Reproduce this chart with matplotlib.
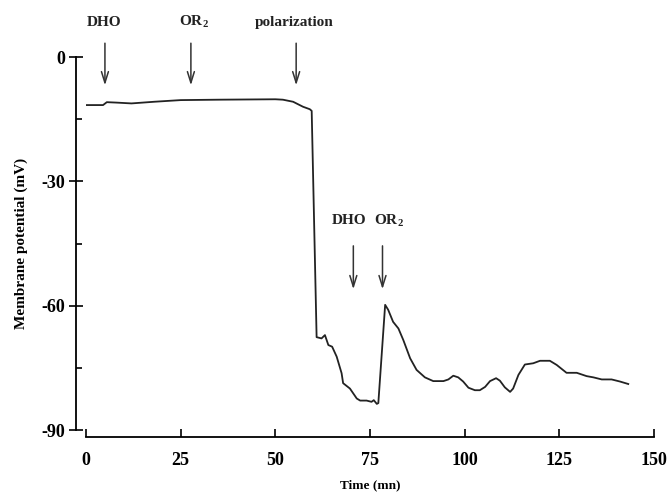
import matplotlib.pyplot as plt

# membrane potential trace
time_mn = [0, 4.5, 5.5, 8, 12, 18, 25, 35, 50, 52, 54.7, 57.3, 59.1, 59.6, 60.9,
           62.2, 63.1, 64.0, 65.0, 66.2, 67.5, 67.9, 69.7, 71.5, 72.4, 74.1, 75.4,
           76.0, 76.8, 77.2, 79.0, 79.8, 81.1, 82.5, 83.8, 85.6, 87.3, 89.5, 91.7,
           94.4, 95.7, 97.0, 98.3, 99.6, 101.0, 102.7, 104.0, 105.4, 106.7, 108.3,
           109.3, 110.6, 112.0, 112.8, 114.2, 115.9, 118.1, 119.9, 122.5, 124.3,
           126.9, 129.6, 132.2, 134.0, 136.2, 138.8, 141.0, 143.2]
potential_mv = [-11.6, -11.6, -10.9, -11.0, -11.2, -10.8, -10.4, -10.3, -10.2, -10.3,
                -10.8, -12.0, -12.6, -13.0, -67.6, -67.9, -67.1, -69.5, -69.9, -72.3,
                -76.3, -78.7, -80.0, -82.4, -82.9, -82.9, -83.2, -82.8, -83.7, -83.5,
                -59.8, -61.0, -63.9, -65.5, -68.3, -72.7, -75.5, -77.3, -78.2, -78.2,
                -77.8, -76.9, -77.3, -78.3, -79.8, -80.4, -80.4, -79.6, -78.2, -77.5,
                -78.1, -79.7, -80.8, -80.0, -76.7, -74.2, -73.9, -73.3, -73.3, -74.3,
                -76.2, -76.2, -77.0, -77.3, -77.8, -77.8, -78.3, -78.9]

# additions marked with arrows:
# (label, arrow time, arrow top, arrow tip, label time, label baseline)
events = [('DHO', 5.0, 4.0, -7.5, 4.9, 7.6),
          ('OR$_\\mathbf{2}$', 27.7, 4.0, -7.5, 28.6, 7.6),
          ('polarization', 55.5, 4.0, -7.5, 54.9, 7.6),
          ('DHO', 70.6, -44.9, -56.7, 69.5, -40.4),
          ('OR$_\\mathbf{2}$', 78.3, -44.9, -56.7, 80.0, -40.4)]

plt.rcParams['font.family'] = ['Liberation Serif', 'DejaVu Serif']
plt.rcParams['mathtext.fontset'] = 'custom'
plt.rcParams['mathtext.bf'] = 'Liberation Serif:bold'
plt.rcParams['mathtext.rm'] = 'Liberation Serif:bold'
plt.rcParams['axes.unicode_minus'] = False

fig = plt.figure(figsize=(6.69, 4.93), dpi=100)
ax = fig.add_axes([86 / 669, 1 - 430 / 493, 568 / 669, 373 / 493])

ax.plot(time_mn, potential_mv, color='#222222', lw=1.3)

for lab, t, y0, y1, lt, ly in events:
    ax.annotate('', xy=(t, y1), xytext=(t, y0), annotation_clip=False,
                arrowprops=dict(arrowstyle='->,head_length=0.8,head_width=0.25',
                                color='#333333', lw=1.1))
    ax.text(lt, ly, lab, ha='center', va='baseline', fontsize=11,
            fontweight='bold', color='#222222', clip_on=False)

ax.set_xlim(0, 150)
ax.set_ylim(-90, 0)
for s in ['top', 'right']:
    ax.spines[s].set_visible(False)
ax.spines['left'].set_position(('outward', 7))
ax.spines['bottom'].set_position(('outward', 5))
ax.spines['left'].set_bounds(-90, 0)
ax.spines['bottom'].set_bounds(0, 150)
ax.spines['left'].set_linewidth(1.3)
ax.spines['bottom'].set_linewidth(1.3)

ax.set_xticks([0, 25, 50, 75, 100, 125, 150])
ax.set_yticks([0, -30, -60, -90])
ax.set_yticks([-15, -45, -75], minor=True)
ax.tick_params(axis='x', direction='in', length=6, width=1.2, pad=11, labelsize=13)
ax.tick_params(axis='y', direction='inout', length=10, width=1.2, pad=3, labelsize=13)
ax.tick_params(axis='y', which='minor', direction='in', length=4, width=1.2)
for lab in ax.get_xticklabels() + ax.get_yticklabels():
    lab.set_fontweight('bold')

ax.set_xlabel('Time (mn)', fontsize=9.5, fontweight='bold', labelpad=7)
ax.set_ylabel('Membrane potential (mV)', fontsize=11, fontweight='bold', labelpad=10)

fig.savefig('out.png', dpi=100)
